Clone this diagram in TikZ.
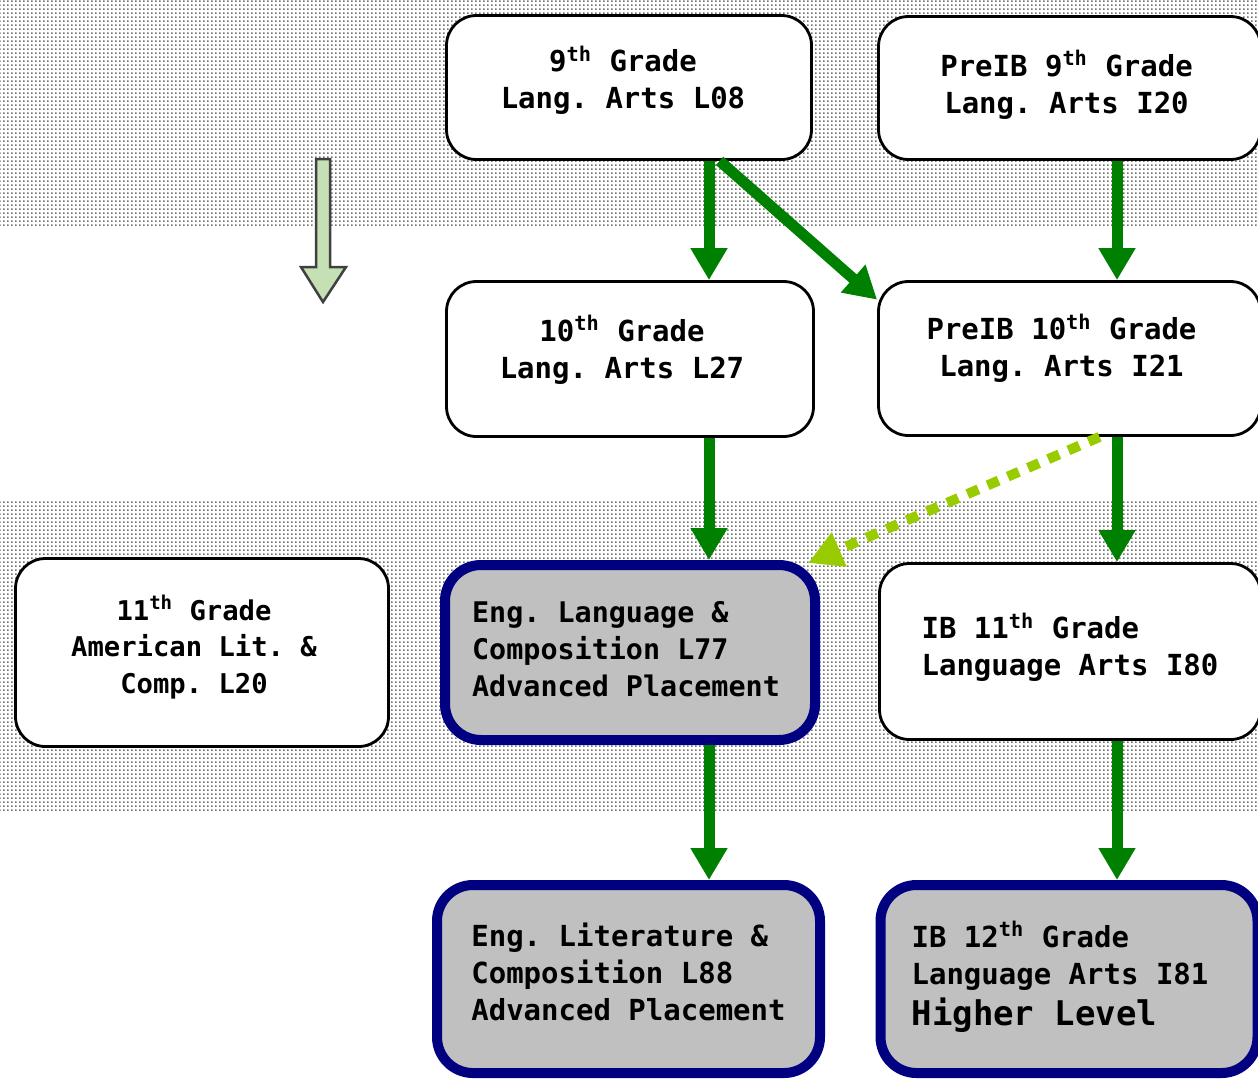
\documentclass[tikz,border=0pt]{standalone}
\usepackage{fontspec}
\setmonofont{DejaVu Sans Mono}
\usetikzlibrary{arrows.meta,patterns}

\definecolor{flowgreen}{HTML}{008000}
\definecolor{apnavy}{HTML}{000080}
\definecolor{apgray}{HTML}{C0C0C0}
\definecolor{ibdots}{HTML}{99CC00}
\definecolor{hintgreen}{HTML}{C5E0B4}
\definecolor{hintedge}{HTML}{404040}
\definecolor{banddots}{HTML}{737373}

\pgfdeclarepatternformonly{smalldots}{\pgfpointorigin}{\pgfqpoint{2pt}{2pt}}{\pgfqpoint{2pt}{2pt}}{%
  \pgfpathrectangle{\pgfpointorigin}{\pgfqpoint{1.05pt}{1.05pt}}\pgfusepath{fill}}

\tikzset{
  course/.style={draw, fill=white, line width=1.4pt, rounded corners=15pt, align=center, inner sep=0pt,
    font=\ttfamily\bfseries\fontsize{14.5}{18.5}\selectfont},
  ibcourse/.style={course, align=left},
  apcourse/.style={course, draw=apnavy, fill=apgray, line width=5pt, rounded corners=18pt, align=left},
  flow/.style={draw=flowgreen, line width=5.5pt, -{Triangle[width=17.5pt,length=16pt]}},
  switch/.style={draw=ibdots, line width=5pt, dash pattern=on 6pt off 5pt, -{Triangle[width=17.5pt,length=17pt]}},
}

\begin{document}
\begin{tikzpicture}[x=0.5pt,y=-0.5pt]

      \useasboundingbox (0,0) rectangle (1258,1078);
      \clip (0,0) rectangle (1258,1078);

      % dotted bands
      \fill[pattern=smalldots, pattern color=banddots] (0,0) rectangle (1258,226);
      \fill[pattern=smalldots, pattern color=banddots] (0,499) rectangle (1258,811);

      % big arrow
      \draw[hintedge, fill=hintgreen, line width=1.25pt, line join=miter]
        (316,159) -- (330,159) -- (330,267) -- (346,267) -- (323,302) -- (301,267) -- (316,267) -- cycle;

      \node[course, minimum width=182.5pt, minimum height=72pt, text depth=10.4pt] (L08) at (629,87.5)
        {9\textsuperscript{th} Grade\kern6pt\\Lang. Arts L08\kern6pt};
      \node[course, minimum width=191pt, minimum height=71.5pt, text depth=6.4pt] (I20) at (1069.5,88)
        {PreIB 9\textsuperscript{th} Grade\kern3pt\\Lang. Arts I20\kern3pt};
      \node[course, minimum width=183.5pt, minimum height=77.5pt, text depth=12.4pt] (L27) at (630,359)
        {10\textsuperscript{th} Grade\kern8pt\\Lang. Arts L27\kern8pt};
      \node[course, minimum width=191pt, minimum height=77pt, text depth=13.4pt] (I21) at (1069.5,358.5)
        {PreIB 10\textsuperscript{th} Grade\kern8pt\\Lang. Arts I21\kern8pt};
      \node[course, minimum width=186.5pt, minimum height=94pt, text depth=8.2pt,
            font=\ttfamily\bfseries\fontsize{13.6}{18.3}\selectfont] (L20) at (202,652.5)
        {11\textsuperscript{th} Grade\kern8pt\\American Lit. \&\kern8pt\\Comp. L20\kern8pt};
      \node[apcourse, minimum width=185pt, minimum height=87.5pt, text depth=3.7pt,
            font=\ttfamily\bfseries\fontsize{14.2}{18.5}\selectfont] (L77) at (630,652.5)
        {Eng. Language \&\\Composition L77\\Advanced Placement\kern4pt};
      \node[ibcourse, minimum width=190.5pt, minimum height=88pt, text depth=7.4pt] (I80) at (1070,651.5)
        {IB 11\textsuperscript{th} Grade\\Language Arts I80};
      \node[apcourse, minimum width=191.5pt, minimum height=94pt, text depth=7.2pt] (L88) at (628.5,979)
        {Eng. Literature \&\\Composition L88\\Advanced Placement};
      \node[apcourse, minimum width=188.5pt, minimum height=94pt, text depth=5.6pt] (I81) at (1069,979)
        {IB 12\textsuperscript{th} Grade\\Language Arts I81\kern9pt\\[2pt]{\fontsize{17}{20}\selectfont Higher Level}};

      \coordinate (lane1) at (709,0);
      \coordinate (lane2) at (1117,0);

      \path (L08.south -| lane1) edge[flow] (L27.north -| lane1);
      \path (L08.-39)            edge[flow] (I21.163);
      \path (I20.south -| lane2) edge[flow] (I21.north -| lane2);
      \path (L27.south -| lane1) edge[flow] (L77.north -| lane1);
      \path (I21.south -| lane2) edge[flow] (I80.north -| lane2);
      \path (L77.south -| lane1) edge[flow] (L88.north -| lane1);
      \path (I80.south -| lane2) edge[flow] (I81.north -| lane2);
      \path (I21.-69) edge[switch] ([xshift=-6pt,yshift=-1.5pt]L77.north east);

    \end{tikzpicture}
\end{document}
